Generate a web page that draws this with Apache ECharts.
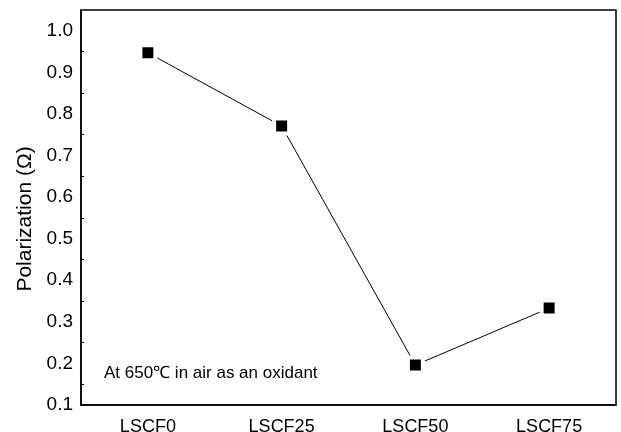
<!DOCTYPE html>
<html>
<head>
<meta charset="utf-8">
<script src="https://cdn.jsdelivr.net/npm/echarts@6/dist/echarts.min.js"></script>
<style>
  html, body { margin: 0; padding: 0; background: #fff; }
  #chart { width: 621px; height: 432px; }
</style>
</head>
<body>
<div id="chart"></div>
<script>
// Cathode compositions and their polarization resistance
const categories = ['LSCF0', 'LSCF25', 'LSCF50', 'LSCF75'];
const polarization = [0.947, 0.771, 0.196, 0.333];
const yTicks = { min: 0.1, max: 1.05, interval: 0.1 };
const yTitle = 'Polarization (\u03A9)';
const note = 'At 650\u2103 in air as an oxidant';

const font = '"Liberation Sans", Arial, sans-serif';
const ink = '#000';
const chart = echarts.init(document.getElementById('chart'), null, { renderer: 'canvas' });

chart.setOption({
  backgroundColor: '#fff',
  animation: false,
  grid: {
    left: 81, right: 5, top: 10, bottom: 27,
    containLabel: false,
    outerBoundsMode: 'none',
    show: true, borderColor: ink, borderWidth: 1.5, backgroundColor: 'transparent'
  },
  xAxis: [
    {
      type: 'category',
      data: categories,
      boundaryGap: true,
      axisLine: { lineStyle: { color: ink, width: 1.5 } },
      axisTick: { inside: true, alignWithLabel: true, length: 6, lineStyle: { color: ink } },
      axisLabel: { color: ink, fontFamily: font, fontSize: 18, margin: 13 },
      splitLine: { show: false }
    },
    {
      // short ticks on the category boundaries
      type: 'category',
      data: categories,
      position: 'bottom',
      boundaryGap: true,
      axisLine: { show: false },
      axisTick: { inside: true, length: 3, lineStyle: { color: ink } },
      axisLabel: { show: false },
      splitLine: { show: false }
    }
  ],
  yAxis: {
    type: 'value',
    min: yTicks.min,
    max: yTicks.max,
    interval: yTicks.interval,
    axisLine: { show: true, lineStyle: { color: ink, width: 1.5 } },
    axisTick: { inside: true, length: 6, lineStyle: { color: ink } },
    minorTick: { show: true, splitNumber: 2, length: 3, lineStyle: { color: ink } },
    axisLabel: {
      color: ink, fontFamily: font, fontSize: 19, margin: 8,
      formatter: v => (v > 1.02 ? '' : v.toFixed(1))
    },
    splitLine: { show: false }
  },
  series: [{
    type: 'line',
    data: polarization,
    xAxisIndex: 0,
    symbol: 'rect',
    symbolSize: 15,
    lineStyle: { color: ink, width: 1 },
    itemStyle: { color: ink, borderColor: '#fff', borderWidth: 4 }
  }],
  graphic: [
    {
      // y-axis title, reading bottom to top
      type: 'text',
      x: 25,
      y: 219,
      rotation: Math.PI / 2,
      style: {
        text: yTitle, fill: ink, font: '21px ' + font,
        textAlign: 'center', textVerticalAlign: 'middle'
      }
    },
    {
      type: 'text',
      left: 104,
      top: 365,
      style: { text: note, fill: ink, font: '17px ' + font }
    }
  ]
});
</script>
</body>
</html>
